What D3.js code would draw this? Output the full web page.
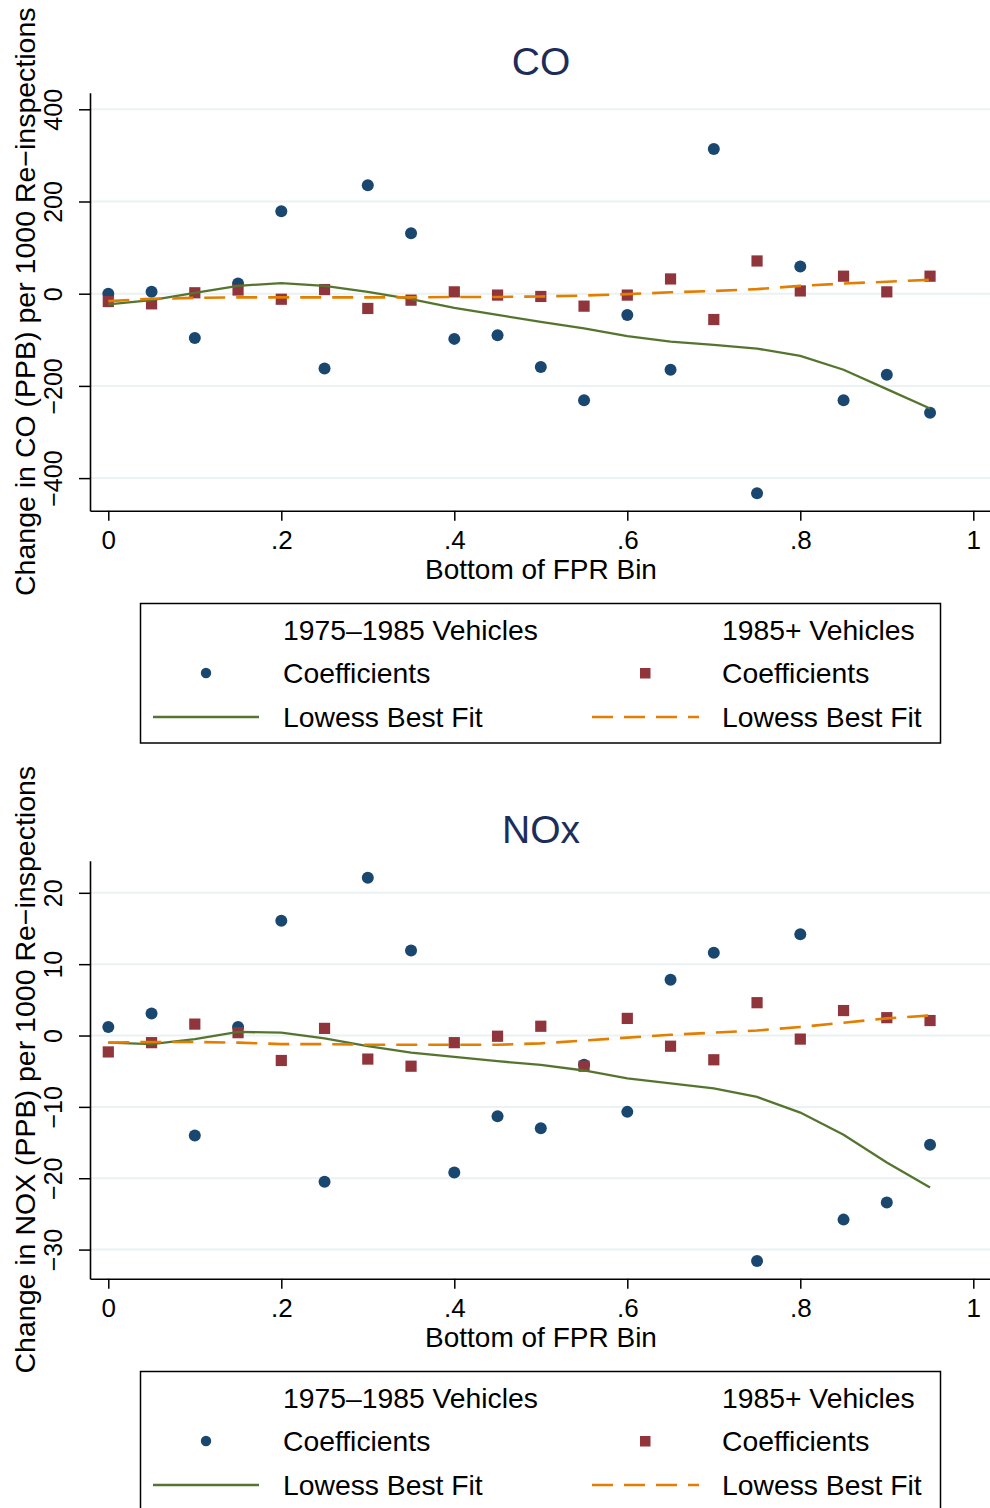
<!DOCTYPE html>
<html>
<head>
<meta charset="utf-8">
<script src="https://cdn.jsdelivr.net/npm/d3@7"></script>
<style>
  html, body { margin: 0; padding: 0; background: #fff; }
  svg { display: block; }
  text { font-family: "Liberation Sans", Arial, sans-serif; }
</style>
</head>
<body>
<svg id="chart" width="990" height="1508"></svg>
<script>
// ---------- DATA ----------
const binBottoms = [0, .05, .1, .15, .2, .25, .3, .35, .4, .45, .5, .55, .6, .65, .7, .75, .8, .85, .9, .95];

const coOldCoef   = [0, 4, -96, 22, 179, -162, 235, 131, -98, -90, -159, -231, -46, -165, 314, -433, 59, -231, -176, -258];
const coNewCoef   = [-17, -22, 2, 8, -12, 9, -32, -14, 4, -3, -6, -27, -3, 32, -56, 71, 6, 38, 4, 38];
const coOldLowess = [-23, -14, 2, 17, 23, 17, 4, -12, -31, -46, -61, -75, -92, -104, -111, -119, -135, -165, -207, -249];
const coNewLowess = [-16, -11, -9, -8, -8, -8, -8, -8, -7, -7, -6, -4, -1, 3, 6, 10, 17, 22, 26, 30];

const noxOldCoef   = [1.2, 3.1, -14.0, 1.2, 16.1, -20.5, 22.1, 11.9, -19.2, -11.3, -13.0, -4.1, -10.7, 7.8, 11.6, -31.6, 14.2, -25.8, -23.4, -15.3];
const noxNewCoef   = [-2.3, -1.0, 1.6, 0.4, -3.5, 1.0, -3.3, -4.3, -1.0, -0.1, 1.3, -4.3, 2.4, -1.5, -3.4, 4.6, -0.5, 3.5, 2.5, 2.1];
const noxOldLowess = [-1.0, -1.2, -0.5, 0.5, 0.4, -0.4, -1.5, -2.4, -3.0, -3.6, -4.1, -4.9, -6.0, -6.7, -7.4, -8.6, -10.8, -13.9, -17.8, -21.3];
const noxNewLowess = [-1.0, -0.9, -0.9, -1.0, -1.2, -1.2, -1.3, -1.3, -1.3, -1.3, -1.1, -0.7, -0.3, 0.1, 0.4, 0.7, 1.2, 1.8, 2.4, 2.8];

const xTicks = [0, .2, .4, .6, .8, 1];
const xTickLabels = ["0", ".2", ".4", ".6", ".8", "1"];
const coYTicks = [-400, -200, 0, 200, 400];
const noxYTicks = [-30, -20, -10, 0, 10, 20];

const panelTitles = ["CO", "NOx"];
const yTitles = ["Change in CO (PPB) per 1000 Re\u2212inspections", "Change in NOX (PPB) per 1000 Re\u2212inspections"];
const xTitle = "Bottom of FPR Bin";
const legendHeaders = ["1975\u20131985 Vehicles", "1985+ Vehicles"];
const legendCoef = "Coefficients";
const legendFit = "Lowess Best Fit";

// ---------- STYLE ----------
const C_NAVY = "#1a476f", C_MAROON = "#90353b", C_GREEN = "#55752f", C_ORANGE = "#e37e00";
const C_TITLE = "#1c2d5c", C_GRID = "#eaf2f3";

const svg = d3.select("#chart");
const L = 90, R = 990, T = 92.7, B = 510.7;
const x = d3.scaleLinear().domain([-0.02116, 1.01931]).range([L, R]);

const panels = [
  { title: panelTitles[0], yTitle: yTitles[0], yDomain: [-470.7, 436], yTicks: coYTicks,
    oldC: coOldCoef, newC: coNewCoef, oldL: coOldLowess, newL: coNewLowess },
  { title: panelTitles[1], yTitle: yTitles[1], yDomain: [-34.08, 24.5], yTicks: noxYTicks,
    oldC: noxOldCoef, newC: noxNewCoef, oldL: noxOldLowess, newL: noxNewLowess }
];

const minusFmt = v => (v < 0 ? "\u2212" + Math.abs(v) : String(v));

panels.forEach((p, i) => {
  const g = svg.append("g").attr("transform", `translate(0,${768 * i})`);
  const y = d3.scaleLinear().domain(p.yDomain).range([B, T]);

  // title
  g.append("text").attr("x", 541).attr("y", 75).attr("text-anchor", "middle")
    .attr("font-size", 39).attr("fill", C_TITLE).text(p.title);

  // grid
  g.append("g").selectAll("line").data(p.yTicks).join("line")
    .attr("x1", L).attr("x2", R).attr("y1", d => y(d)).attr("y2", d => y(d))
    .attr("stroke", C_GRID).attr("stroke-width", 2);

  // markers: old (circles)
  g.append("g").selectAll("circle").data(binBottoms).join("circle")
    .attr("cx", d => x(d)).attr("cy", (d, k) => y(p.oldC[k])).attr("r", 6)
    .attr("fill", C_NAVY);
  // markers: new (squares)
  const s = 11.2;
  g.append("g").selectAll("rect").data(binBottoms).join("rect")
    .attr("x", d => x(d) - s / 2).attr("y", (d, k) => y(p.newC[k]) - s / 2)
    .attr("width", s).attr("height", s).attr("fill", C_MAROON);

  // lowess lines
  const line = arr => d3.line().x(d => x(d)).y((d, k) => y(arr[k]))(binBottoms);
  g.append("path").attr("d", line(p.oldL)).attr("fill", "none")
    .attr("stroke", C_GREEN).attr("stroke-width", 2.3);
  g.append("path").attr("d", line(p.newL)).attr("fill", "none")
    .attr("stroke", C_ORANGE).attr("stroke-width", 2.6).attr("stroke-dasharray", "21,11");

  // x axis
  const xa = g.append("g").attr("transform", `translate(0,${B})`)
    .call(d3.axisBottom(x).tickValues(xTicks).tickFormat((d, k) => xTickLabels[k])
      .tickSizeInner(10).tickSizeOuter(0));
  xa.select(".domain").attr("stroke", "#000").attr("stroke-width", 1.6);
  xa.selectAll(".tick line").attr("stroke", "#000").attr("stroke-width", 1.5);
  xa.selectAll(".tick text").attr("y", 38).attr("dy", null)
    .attr("font-size", 26).attr("fill", "#000").style("font-family", "'Liberation Sans', Arial, sans-serif");

  // y axis
  const ya = g.append("g").attr("transform", `translate(${L},0)`)
    .call(d3.axisLeft(y).tickValues(p.yTicks).tickFormat(minusFmt)
      .tickSizeInner(11).tickSizeOuter(0));
  ya.select(".domain").attr("stroke", "#000").attr("stroke-width", 1.6);
  ya.selectAll(".tick line").attr("stroke", "#000").attr("stroke-width", 1.5);
  ya.selectAll(".tick text").attr("x", null).attr("dy", null)
    .attr("transform", "translate(-28,0) rotate(-90)").attr("text-anchor", "middle")
    .attr("font-size", 25).attr("fill", "#000").style("font-family", "'Liberation Sans', Arial, sans-serif");

  // axis titles
  g.append("text").attr("x", 541).attr("y", 579).attr("text-anchor", "middle")
    .attr("font-size", 28).attr("fill", "#000").text(xTitle);
  g.append("text").attr("transform", `translate(35,${(T + B) / 2}) rotate(-90)`)
    .attr("text-anchor", "middle").attr("font-size", 28.5).attr("fill", "#000").text(p.yTitle);

  // legend
  const lg = g.append("g");
  lg.append("rect").attr("x", 140.5).attr("y", 603.5).attr("width", 800).attr("height", 139.5)
    .attr("fill", "#fff").attr("stroke", "#000").attr("stroke-width", 1.5);
  const colText = [283, 722];
  const rows = [640, 683, 727];
  legendHeaders.forEach((h, c) => {
    lg.append("text").attr("x", colText[c]).attr("y", rows[0]).attr("font-size", 28.3).attr("fill", "#000").text(h);
    lg.append("text").attr("x", colText[c]).attr("y", rows[1]).attr("font-size", 28.3).attr("fill", "#000").text(legendCoef);
    lg.append("text").attr("x", colText[c]).attr("y", rows[2]).attr("font-size", 28.3).attr("fill", "#000").text(legendFit);
  });
  lg.append("circle").attr("cx", 206).attr("cy", 673).attr("r", 5.2).attr("fill", C_NAVY);
  lg.append("rect").attr("x", 640).attr("y", 668).attr("width", 10.5).attr("height", 10.5).attr("fill", C_MAROON);
  lg.append("line").attr("x1", 153).attr("x2", 259).attr("y1", 717).attr("y2", 717)
    .attr("stroke", C_GREEN).attr("stroke-width", 2.3);
  lg.append("line").attr("x1", 592).attr("x2", 699).attr("y1", 717).attr("y2", 717)
    .attr("stroke", C_ORANGE).attr("stroke-width", 2.6).attr("stroke-dasharray", "21,11");
});
</script>
</body>
</html>
